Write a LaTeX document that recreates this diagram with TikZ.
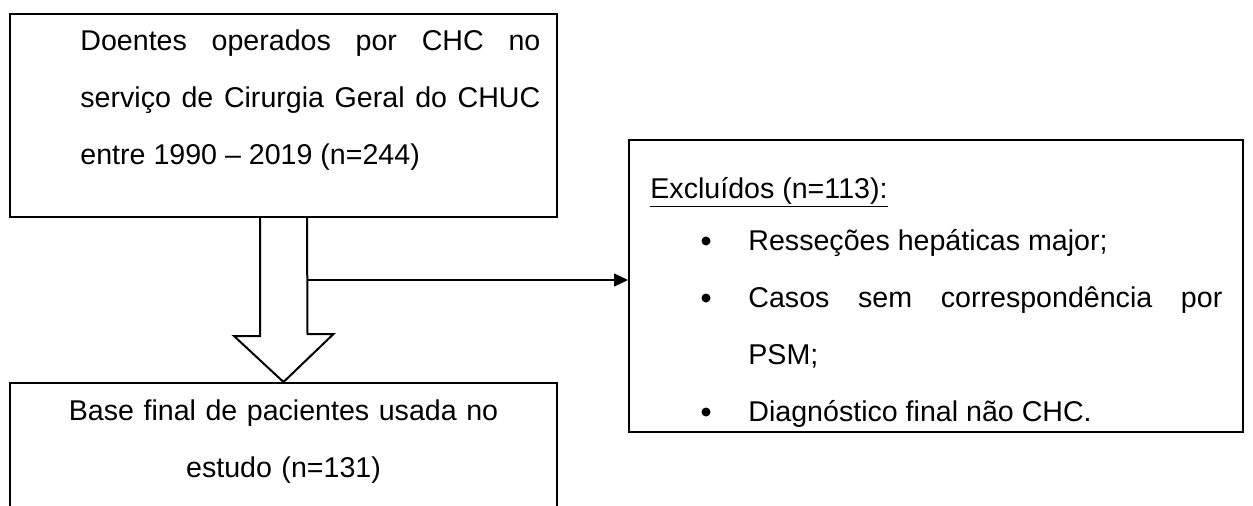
\documentclass[tikz,border=0pt]{standalone}
\usepackage{fontspec}
\setmainfont{Liberation Sans}
\usetikzlibrary{arrows.meta,positioning}

\begin{document}
\begin{tikzpicture}[x=0.5pt,y=-0.5pt,
		caixa/.style={draw,line width=1pt,inner sep=0pt},
		texto/.style={inner sep=0pt,font=\fontsize{14.3}{28.5}\selectfont},
		ponto/.style={circle,fill,inner sep=0pt,minimum size=4.5pt}]
		\useasboundingbox (0,0) rectangle (1253,505);
		% caixas
		\node[caixa,minimum width=273.5pt,minimum height=101.5pt] (entrada) at (283.5,115.5) {};
		\node[caixa,minimum width=273.5pt,minimum height=66pt] (final) at (283.5,449) {};
		\node[caixa,minimum width=307pt,minimum height=146pt] (excluidos) at (936,286) {};
		% textos
		\node[texto,text width=230pt,align=justify,anchor=base west] (t1) at (80,50) {Doentes operados por CHC no\linebreak serviço de Cirurgia Geral do CHUC\linebreak entre 1990 – 2019 (n=244)};
		\node[texto,text width=230pt,align=center,anchor=base] (t2) at (283.5,420) {Base final de pacientes usada no\\estudo (n=131)};
		\node[texto,anchor=base west] (t3) at (650,198) {\underline{Excluídos (n=113):}};
		\node[texto,text width=237pt,align=justify,anchor=base west] (t4) at (748,250) {Resseções hepáticas major;\\Casos sem correspondência por\linebreak PSM;\\Diagnóstico final não CHC.};
		\foreach \y in {241,298,412}
		\node[ponto] (b\y) at (706,\y) {};
		% setas
		\draw[line width=1pt,line join=miter] ([xshift=-11.75pt]entrada.south) -- ++(0,118) -- ++(-26,0) -- (final.north) -- ++(50,-48) -- ++(-26,0) -- ([xshift=11.75pt]entrada.south);
		\coordinate (ramo) at (307,280);
		\draw[line width=0.6pt,-{Triangle[length=7pt,width=6.5pt]}] (ramo) -- (ramo -| excluidos.west);
\end{tikzpicture}
\end{document}
